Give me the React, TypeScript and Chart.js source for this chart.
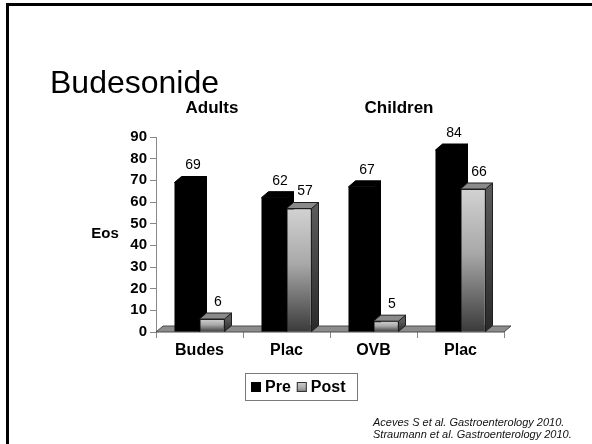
import { useEffect, useRef } from "react";
import { Chart, registerables } from "chart.js";

Chart.register(...registerables);

const categories = ["Budes", "Plac", "OVB", "Plac"];
const preValues = [69, 62, 67, 84];
const postValues = [6, 57, 5, 66];
const seriesNames = ["Pre", "Post"];
const groupLabels = ["Adults", "Children"];
const yMin = 0;
const yMax = 90;
const yStep = 10;
const titleText = "Budesonide";
const axisTitle = "Eos";
const citations = [
  "Aceves S et al. Gastroenterology 2010.",
  "Straumann et al. Gastroenterology 2010.",
];

const FONT = "'Liberation Sans', Arial, Helvetica, sans-serif";
const DX = 7;
const DY = 6;

function postGradient(ctx: CanvasRenderingContext2D, top: number, base: number) {
  const g = ctx.createLinearGradient(0, top, 0, base);
  g.addColorStop(0, "#d2d2d2");
  g.addColorStop(0.45, "#a8a8a8");
  g.addColorStop(1, "#3a3a3a");
  return g;
}

const bars3d = {
  id: "bars3d",
  beforeDatasetsDraw(chart: any) {
    const ctx: CanvasRenderingContext2D = chart.ctx;
    const { left, right, bottom } = chart.chartArea;
    ctx.save();
    // floor
    ctx.beginPath();
    ctx.moveTo(left, bottom);
    ctx.lineTo(right, bottom);
    ctx.lineTo(right + DX, bottom - DY);
    ctx.lineTo(left + DX, bottom - DY);
    ctx.closePath();
    ctx.fillStyle = "#8c8c8c";
    ctx.fill();
    ctx.strokeStyle = "#4a4a4a";
    ctx.lineWidth = 1;
    ctx.stroke();

    chart.data.datasets.forEach((ds: any, di: number) => {
      const meta = chart.getDatasetMeta(di);
      meta.data.forEach((bar: any) => {
        const { x, y, base, width } = bar.getProps(["x", "y", "base", "width"], true);
        const x0 = x - width / 2;
        const x1 = x + width / 2;
        const dark = di === 0;
        // side face
        ctx.beginPath();
        ctx.moveTo(x1, y);
        ctx.lineTo(x1 + DX, y - DY);
        ctx.lineTo(x1 + DX, base - DY);
        ctx.lineTo(x1, base);
        ctx.closePath();
        if (dark) {
          ctx.fillStyle = "#000";
        } else {
          const g = ctx.createLinearGradient(0, y, 0, base);
          g.addColorStop(0, "#5a5a5a");
          g.addColorStop(1, "#2a2a2a");
          ctx.fillStyle = g;
        }
        ctx.fill();
        ctx.strokeStyle = dark ? "#000" : "#1e1e1e";
        ctx.stroke();
        // top face
        ctx.beginPath();
        ctx.moveTo(x0, y);
        ctx.lineTo(x1, y);
        ctx.lineTo(x1 + DX, y - DY);
        ctx.lineTo(x0 + DX, y - DY);
        ctx.closePath();
        ctx.fillStyle = dark ? "#000" : "#8a8a8a";
        ctx.fill();
        ctx.stroke();
      });
    });
    ctx.restore();
  },
  afterDatasetsDraw(chart: any) {
    const ctx: CanvasRenderingContext2D = chart.ctx;
    ctx.save();
    ctx.fillStyle = "#000";
    ctx.font = `14px ${FONT}`;
    ctx.textAlign = "center";
    ctx.textBaseline = "middle";
    chart.data.datasets.forEach((ds: any, di: number) => {
      const meta = chart.getDatasetMeta(di);
      meta.data.forEach((bar: any, i: number) => {
        const { x, y } = bar.getProps(["x", "y"], true);
        ctx.fillText(String(ds.data[i]), x + 6, y - 17);
      });
    });
    ctx.restore();
  },
  afterDraw(chart: any) {
    const ctx: CanvasRenderingContext2D = chart.ctx;
    const xs = chart.scales.x;
    ctx.save();
    // slide frame
    ctx.fillStyle = "#000";
    ctx.fillRect(6, 3, 3, 444);
    ctx.fillRect(6, 3, 600, 3);
    // title
    ctx.font = `32px ${FONT}`;
    ctx.textAlign = "left";
    ctx.textBaseline = "alphabetic";
    ctx.fillText(titleText, 50, 93);
    // group labels
    ctx.font = `bold 17px ${FONT}`;
    ctx.textAlign = "center";
    ctx.textBaseline = "middle";
    const gc0 = (xs.getPixelForValue(0) + xs.getPixelForValue(1)) / 2 - 31;
    const gc1 = (xs.getPixelForValue(2) + xs.getPixelForValue(3)) / 2 - 18;
    ctx.fillText(groupLabels[0], gc0, 108);
    ctx.fillText(groupLabels[1], gc1, 108);
    // axis title
    ctx.font = `bold 15px ${FONT}`;
    ctx.fillText(axisTitle, 105, 234);
    // legend
    const lx = 245, ly = 373, lw = 112, lh = 27;
    ctx.strokeStyle = "#7a7a7a";
    ctx.lineWidth = 1;
    ctx.strokeRect(lx + 0.5, ly + 0.5, lw, lh);
    ctx.font = `bold 16px ${FONT}`;
    ctx.textAlign = "left";
    let cx = lx + 6;
    const cy = ly + lh / 2 + 0.5;
    seriesNames.forEach((name, i) => {
      if (i === 0) {
        ctx.fillStyle = "#000";
        ctx.fillRect(cx, cy - 5, 10, 10);
      } else {
        ctx.fillStyle = postGradient(ctx, cy - 5, cy + 9);
        ctx.fillRect(cx, cy - 5, 10, 10);
        ctx.strokeStyle = "#333";
        ctx.strokeRect(cx + 0.5, cy - 4.5, 9, 9);
      }
      ctx.fillStyle = "#000";
      ctx.fillText(name, cx + 14, cy + 1);
      cx += 14 + ctx.measureText(name).width + 6;
    });
    // citations
    ctx.font = `italic 11px ${FONT}`;
    ctx.fillStyle = "#111";
    ctx.textAlign = "left";
    citations.forEach((c, i) => ctx.fillText(c, 373, 423 + i * 11.5));
    ctx.restore();
  },
};

export default function App() {
  const ref = useRef<HTMLCanvasElement>(null);
  useEffect(() => {
    if (!ref.current) return;
    const chart = new Chart(ref.current, {
      type: "bar",
      data: {
        labels: categories,
        datasets: [
          {
            label: seriesNames[0],
            data: preValues,
            backgroundColor: "#000",
            borderWidth: 0,
            categoryPercentage: 0.575,
            barPercentage: 1,
          },
          {
            label: seriesNames[1],
            data: postValues,
            backgroundColor: (c: any) => {
              const ys = c.chart.scales?.y;
              if (c.type !== "data" || !ys) return "#aaa";
              const top = ys.getPixelForValue(c.raw);
              const base = ys.getPixelForValue(0);
              if (!isFinite(top) || !isFinite(base)) return "#aaa";
              return postGradient(c.chart.ctx, top, base);
            },
            borderColor: "#1e1e1e",
            borderWidth: 1,
            categoryPercentage: 0.575,
            barPercentage: 1,
          },
        ],
      },
      options: {
        responsive: false,
        animation: false,
        devicePixelRatio: 1,
        layout: { padding: { left: 60, right: 88, top: 137, bottom: 72 } },
        plugins: {
          legend: { display: false },
          tooltip: { enabled: false },
          title: { display: false },
        },
        scales: {
          x: {
            offset: true,
            grid: { drawOnChartArea: false, tickLength: 6, color: "#888", offset: true },
            border: { display: false },
            ticks: { color: "#000", font: { family: FONT, size: 16, weight: "bold" }, padding: 3 },
            afterFit: (s: any) => {
              s.height = 40;
            },
          },
          y: {
            min: yMin,
            max: yMax,
            ticks: { stepSize: yStep, color: "#000", font: { family: FONT, size: 15, weight: "bold" }, padding: 3 },
            grid: { drawOnChartArea: false, tickLength: 6, color: "#888" },
            border: { display: true, color: "#888", width: 1 },
            afterFit: (s: any) => {
              s.width = 96;
            },
          },
        },
      },
      plugins: [bars3d],
    });
    return () => chart.destroy();
  }, []);
  return (
    <div style={{ position: "fixed", left: 0, top: 0, width: 592, height: 444, background: "#fff" }}>
      <canvas ref={ref} width={592} height={444} />
    </div>
  );
}
